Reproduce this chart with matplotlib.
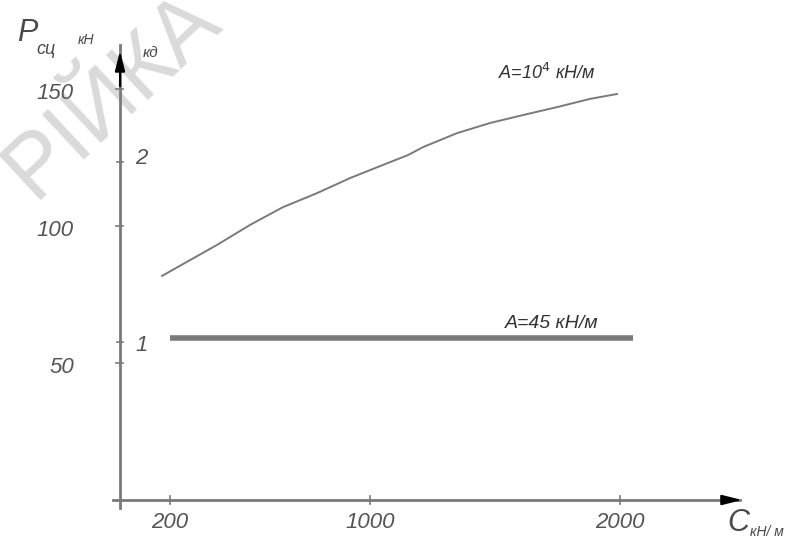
"""P_сц vs C chart — two stiffness cases, drawn in drafting style."""
import matplotlib
matplotlib.use("Agg")
import matplotlib.pyplot as plt

FONT = ["Liberation Sans", "DejaVu Sans"]
GREY = "#7a7a7a"
INK = "#4a4a4a"

# curve 2: A = 10^4 kN/m
c_upper = [168, 388, 520, 652, 788, 920, 1052, 1152, 1212, 1348, 1480,
           1612, 1748, 1880, 1988]
p_upper = [81.8, 93.1, 100.4, 106.9, 112.0, 117.5, 122.3, 125.9, 128.8,
           133.9, 137.6, 140.5, 143.4, 146.4, 148.2]
# curve 1: A = 45 kN/m
c_lower = [200, 2050]
p_lower = [59.1, 59.1]

x_ticks = [200, 1000, 2000]
x_labels = ["200", "1000", "2000"]
y_ticks = [50, 100, 150]
y_labels = ["50", "100", "150"]

fig = plt.figure(figsize=(8.11, 5.41), dpi=100)
ax = fig.add_axes([0, 0, 1, 1])
ax.set_xlim(-480, 2764)
ax.set_ylim(-14.96, 182.5)
ax.axis("off")

# scan watermark
ax.text(-30, 148, "РІЙКА", rotation=43, rotation_mode="anchor",
        fontsize=64, color="#dadada", family=FONT, ha="center", va="center",
        zorder=0)

# axes with arrows
ax.plot([-30, 2480], [0, 0], color=GREY, lw=2, zorder=2)
ax.plot([0, 0], [-3, 166], color=GREY, lw=2, zorder=2)
ax.annotate("", xy=(2500, 0), xytext=(2400, 0),
            arrowprops=dict(arrowstyle="-|>,head_length=1.2,head_width=0.3",
                            color="black", lw=1.5))
ax.annotate("", xy=(0, 165), xytext=(0, 150),
            arrowprops=dict(arrowstyle="-|>,head_length=1.2,head_width=0.3",
                            color="black", lw=1.5))

# ticks
for c, lab in zip(x_ticks, x_labels):
    ax.plot([c, c], [-1.5, 1.5], color=GREY, lw=1.2)
    ax.text(c, -4.5, lab, ha="center", va="top", fontsize=16, style="italic",
            family=FONT, color="#555555")
for p, lab in zip(y_ticks, y_labels):
    ax.plot([-15, 10], [p, p], color=GREY, lw=1.2)
    ax.text(-185, p - 1.5, lab, ha="right", va="center", fontsize=16,
            style="italic", family=FONT, color="#555555")
ax.plot([-12, 12], [57.5, 57.5], color=GREY, lw=1.2)
ax.plot([-12, 12], [123.5, 123.5], color=GREY, lw=1.2)
ax.text(60, 56.5, "1", fontsize=16, style="italic", family=FONT, color="#555555",
        ha="left", va="center")
ax.text(60, 124.5, "2", fontsize=16, style="italic", family=FONT, color="#555555",
        ha="left", va="center")

# curves
ax.plot(c_upper, p_upper, color=GREY, lw=1.4, zorder=3)
ax.plot(c_lower, p_lower, color=GREY, lw=4, zorder=3, solid_capstyle="butt")
ax.text(1510, 156, "A=10$^4$ кН/м", fontsize=13, style="italic", family=FONT,
        color="#333333", ha="left", va="center")
ax.text(1540, 64.5, "A=45 кН/м", fontsize=14, style="italic", family=FONT,
        color="#333333", ha="left", va="center")

# axis titles
ax.text(-410, 170.4, "P", fontsize=22, style="italic", family=FONT, color=INK,
        ha="left", va="center")
ax.text(-334, 164.6, "сц", fontsize=13, style="italic", family=FONT, color=INK,
        ha="left", va="center")
ax.text(-168, 168, "кН", fontsize=10, style="italic", family=FONT, color=INK,
        ha="left", va="center")
ax.text(92, 163, "кд", fontsize=11, style="italic", family=FONT, color=INK,
        ha="left", va="center")
ax.text(2428, -8.5, "C", fontsize=22, style="italic", family=FONT, color=INK,
        ha="left", va="center")
ax.text(2520, -11.8, "кН/ м", fontsize=10, style="italic", family=FONT,
        color=INK, ha="left", va="center")

fig.savefig("out.png", dpi=100)
